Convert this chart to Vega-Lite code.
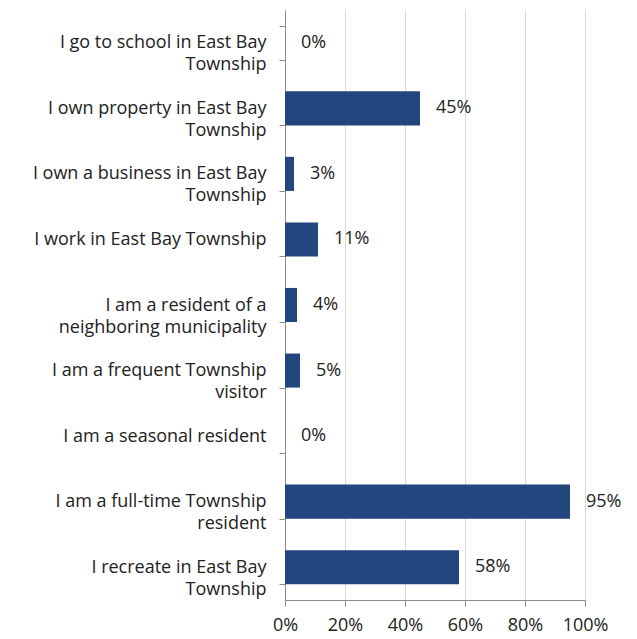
{
  "$schema": "https://vega.github.io/schema/vega-lite/v6.json",
  "autosize": "none",
  "padding": {"left": 285, "top": 10, "right": 52, "bottom": 39},
  "width": 300,
  "height": 590,
  "background": "white",
  "data": {
    "values": [
      {"answer": "I go to school in East Bay|Township", "pct": 0.0},
      {"answer": "I own property in East Bay|Township", "pct": 0.45},
      {"answer": "I own a business in East Bay|Township", "pct": 0.03},
      {"answer": "I work in East Bay Township", "pct": 0.11},
      {"answer": "I am a resident of a|neighboring municipality", "pct": 0.04},
      {"answer": "I am a frequent Township|visitor", "pct": 0.05},
      {"answer": "I am a seasonal resident", "pct": 0.0},
      {"answer": "I am a full-time Township|resident", "pct": 0.95},
      {"answer": "I recreate in East Bay|Township", "pct": 0.58}
    ]
  },
  "config": {
    "view": {"stroke": null},
    "font": "Open Sans",
    "axis": {
      "labelFont": "Open Sans",
      "labelFontSize": 18,
      "labelColor": "#222222",
      "domainColor": "#8c8c8c",
      "tickColor": "#8c8c8c",
      "gridColor": "#d9d9d9",
      "title": null
    }
  },
  "encoding": {
    "y": {
      "field": "answer",
      "type": "nominal",
      "sort": null,
      "scale": {"paddingInner": 0.48, "paddingOuter": 0.24},
      "axis": {
        "tickBand": "extent",
        "tickSize": 6,
        "labelPadding": 13,
        "labelLineHeight": 22,
        "labelExpr": "split(datum.label, '|')",
        "grid": false,
        "labelLimit": 400
      }
    },
    "x": {
      "field": "pct",
      "type": "quantitative",
      "scale": {"domain": [0, 1]},
      "axis": {
        "values": [0, 0.2, 0.4, 0.6, 0.8, 1],
        "format": ".0%",
        "tickSize": 6,
        "labelPadding": 10,
        "labelOverlap": false,
        "labelFlush": false,
        "grid": true
      }
    }
  },
  "layer": [
    {"mark": {"type": "bar", "color": "#24467f"}},
    {
      "mark": {"type": "text", "align": "left", "dx": 16, "fontSize": 18, "color": "#222222", "font": "Open Sans"},
      "encoding": {"text": {"field": "pct", "type": "quantitative", "format": ".0%"}}
    }
  ]
}
